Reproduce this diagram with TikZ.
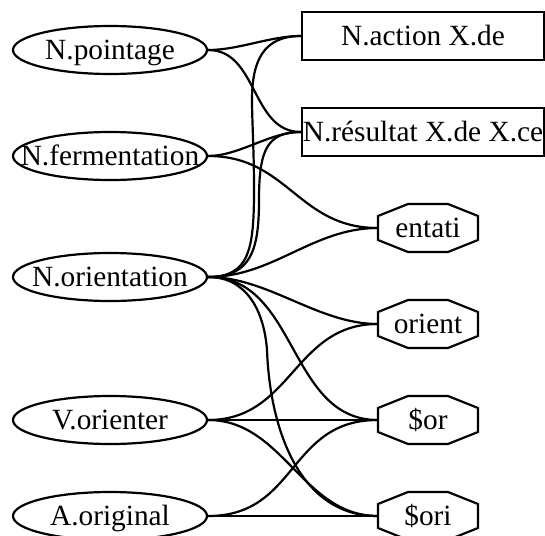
\documentclass[tikz,border=0pt]{standalone}
\usepackage{fontspec}
\setmainfont{Liberation Serif}
\usetikzlibrary{shapes.geometric,calc}
\tikzset{
  lbl/.style={font=\fontsize{22}{26}\selectfont, text height=14.4pt, text depth=0pt, inner sep=0pt},
  leftnode/.style={lbl, ellipse, draw, line width=1.65pt, minimum width=145.5pt, minimum height=36pt},
  boxnode/.style={lbl, rectangle, draw, line width=1.65pt, minimum width=181.5pt, minimum height=36pt},
  octnode/.style={lbl, rectangle, minimum width=75pt, minimum height=36pt},
  octline/.style={line width=1.65pt, line join=miter},
  edge/.style={line width=1.65pt}
}
\begin{document}
\begin{tikzpicture}[x=0.75pt, y=-0.75pt]
\useasboundingbox (0,0) rectangle (545,535);
\clip (0,0) rectangle (545,535);
% left nodes
\node[leftnode] (npoint) at (110,50) {\makebox[0pt]{N.pointage}};
\node[leftnode] (nferm) at (110,156) {\makebox[0pt]{N.fermentation}};
\node[leftnode] (norient) at (110,277) {\makebox[0pt]{N.orientation}};
\node[leftnode] (vorient) at (110,420) {\makebox[0pt]{V.orienter}};
\node[leftnode] (aorig) at (110,516) {\makebox[0pt]{A.original}};
% right nodes
\node[boxnode] (naction) at (423,36) {\makebox[0pt]{N.action X.de}};
\node[boxnode] (nres) at (423,132) {\makebox[0pt]{N.résultat X.de X.ce}};
\node[octnode] (entati) at (428,228) {\makebox[0pt]{entati}};
\node[octnode] (orient) at (428,324) {\makebox[0pt]{orient}};
\node[octnode] (sor) at (428,420) {\makebox[0pt]{\$or}};
\node[octnode] (sori) at (428,516) {\makebox[0pt]{\$ori}};
\foreach \n in {entati,orient,sor,sori}
  \draw[octline] ($(\n.center)+(-50,-12)$) -- ($(\n.center)+(-20,-24)$) -- ($(\n.center)+(20,-24)$) -- ($(\n.center)+(50,-12)$) -- ($(\n.center)+(50,12)$) -- ($(\n.center)+(20,24)$) -- ($(\n.center)+(-20,24)$) -- ($(\n.center)+(-50,12)$) -- cycle;
% waypoints
\coordinate (w1) at (254,190);
\coordinate (w2) at (252,100);
\coordinate (w3) at (259,200);
\coordinate (w4) at (267,350);
% edges
\draw[edge] (npoint.east) .. controls +(31,0) and +(-31,0) .. (naction.west);
\draw[edge] (npoint.east) .. controls +(50,0) and +(-50,0) .. (nres.west);
\draw[edge] (nferm.east) .. controls +(31,0) and +(-31,0) .. (nres.west);
\draw[edge] (nferm.east) .. controls +(80,0) and +(-80,0) .. (entati.west);
\draw[edge] (norient.east) .. controls +(41,0) and +(0,60) .. (w1) .. controls +(0,-40) and +(0,20) .. (w2) .. controls +(0,-40) and +(-37,0) .. (naction.west);
\draw[edge] (norient.east) .. controls +(43,0) and +(0,50) .. (w3) .. controls +(0,-50) and +(-34,0) .. (nres.west);
\draw[edge] (norient.east) .. controls +(65,0) and +(-65,0) .. (entati.west);
\draw[edge] (norient.east) .. controls +(60,0) and +(-60,0) .. (orient.west);
\draw[edge] (norient.east) .. controls +(90,0) and +(-90,0) .. (sor.west);
\draw[edge] (norient.east) .. controls +(38,0) and +(-3,-40) .. (w4) .. controls +(3,80) and +(-78,0) .. (sori.west);
\draw[edge] (vorient.east) .. controls +(84,0) and +(-84,0) .. (orient.west);
\draw[edge] (vorient.east) -- (sor.west);
\draw[edge] (vorient.east) .. controls +(75,0) and +(-75,0) .. (sori.west);
\draw[edge] (aorig.east) .. controls +(90,0) and +(-90,0) .. (sor.west);
\draw[edge] (aorig.east) -- (sori.west);
\end{tikzpicture}
\end{document}
